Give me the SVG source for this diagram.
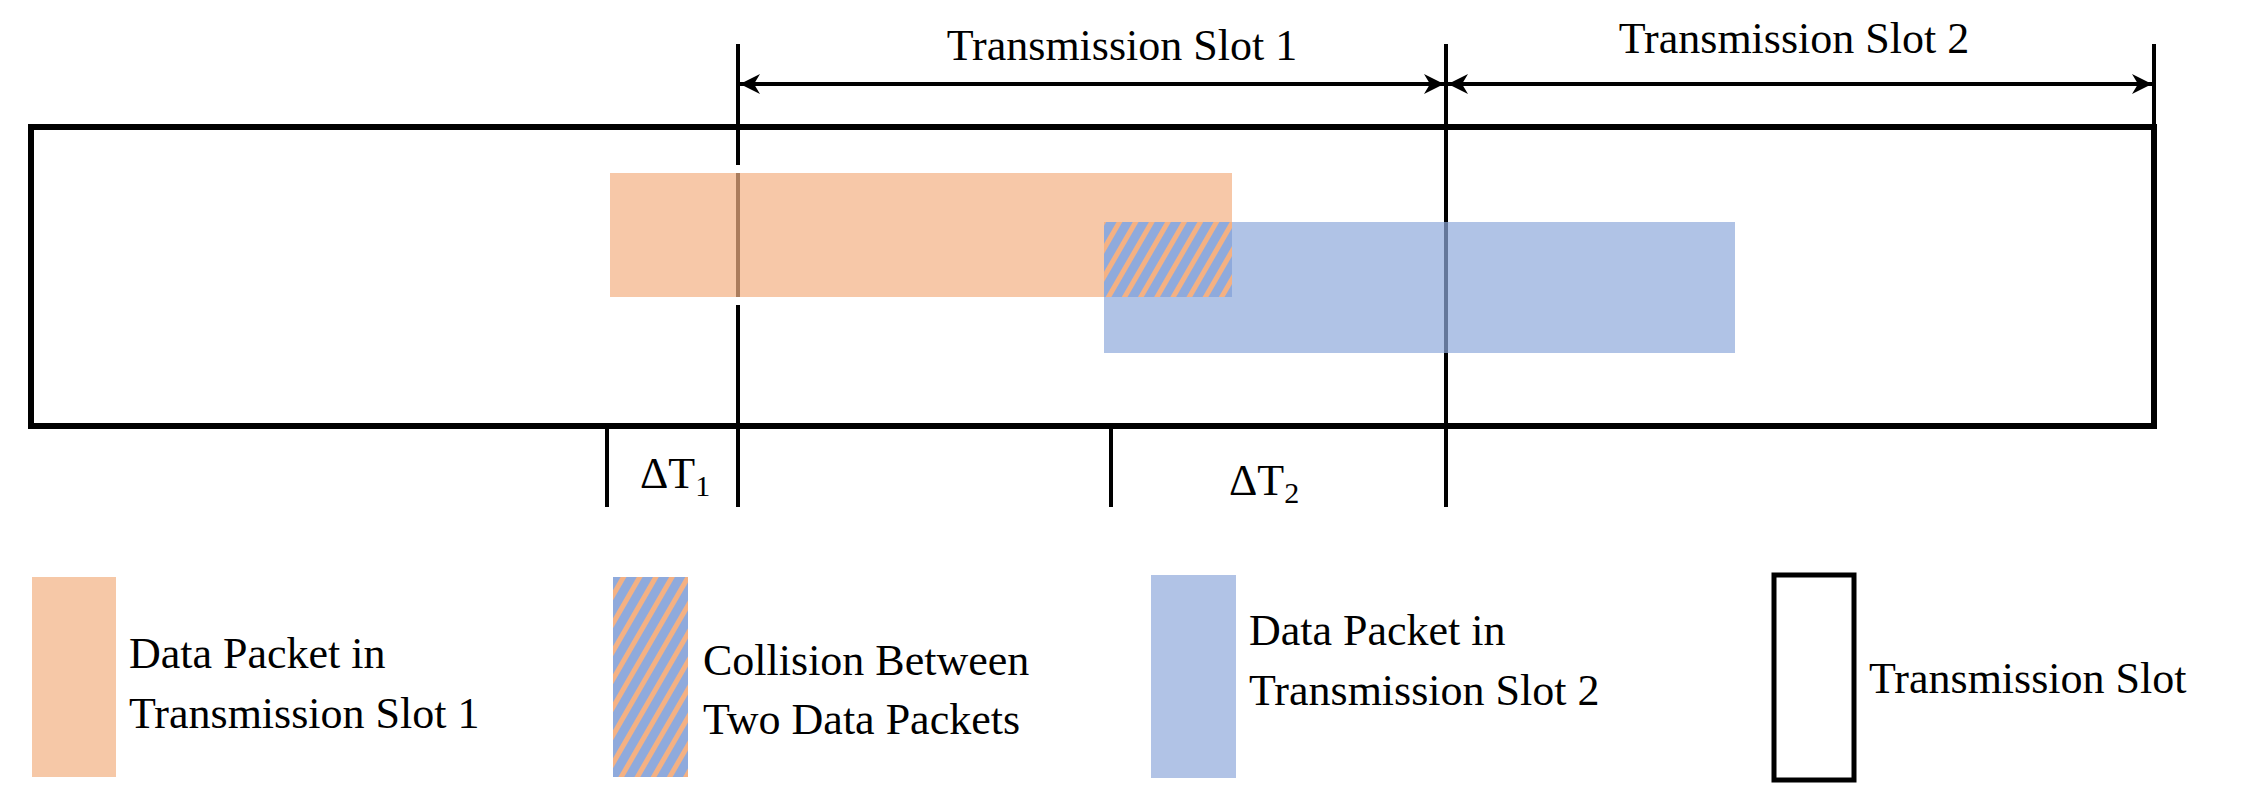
<svg xmlns="http://www.w3.org/2000/svg" width="2252" height="803" viewBox="0 0 2252 803">
<defs>
<style>
.ln{stroke:#000;stroke-width:4;fill:none}
.t{font-family:"Liberation Serif","Times New Roman",serif;font-size:44px;fill:#000}
.or{fill:#f4b183;fill-opacity:0.7}
.bl{fill:#8faadc;fill-opacity:0.7}
</style>
<pattern id="hatch" width="14" height="14" patternUnits="userSpaceOnUse" patternTransform="rotate(30)">
<rect width="14" height="14" fill="#8faadc"/>
<rect width="5" height="14" fill="#f4b183"/>
</pattern>
<marker id="ah" viewBox="0 0 20 20" refX="20" refY="10" markerWidth="20" markerHeight="20" markerUnits="userSpaceOnUse" orient="auto-start-reverse">
<path d="M0,0 L20,10 L0,20 L6,10 Z" fill="#000"/>
</marker>
</defs>
<g id="connectors">
<line class="ln" x1="738" y1="44" x2="738" y2="165"/>
<line class="ln" x1="738" y1="173" x2="738" y2="297"/>
<line class="ln" x1="738" y1="305" x2="738" y2="507"/>
<line class="ln" x1="1446" y1="44" x2="1446" y2="507"/>
<line class="ln" x1="2154" y1="44" x2="2154" y2="126"/>
<line class="ln" x1="607" y1="426" x2="607" y2="507"/>
<line class="ln" x1="1111" y1="426" x2="1111" y2="507"/>
<line class="ln" x1="740" y1="84" x2="1444" y2="84" marker-start="url(#ah)" marker-end="url(#ah)"/>
<line class="ln" x1="1448" y1="84" x2="2152" y2="84" marker-start="url(#ah)" marker-end="url(#ah)"/>
</g>
<g id="slot-frame"><rect x="31" y="127" width="2123" height="299" fill="none" stroke="#000" stroke-width="6"/></g>
<g id="packet1"><rect class="or" x="610" y="173" width="622" height="124"/></g>
<g id="packet2"><rect class="bl" x="1104" y="222" width="631" height="131"/></g>
<g id="collision"><rect x="1104" y="222" width="128" height="75" fill="url(#hatch)"/></g>
<g id="labels">
<text class="t" x="1122" y="60" text-anchor="middle">Transmission Slot 1</text>
<text class="t" x="1794" y="53" text-anchor="middle">Transmission Slot 2</text>
<text class="t" x="640" y="488">ΔT<tspan font-size="30" dy="8">1</tspan></text>
<text class="t" x="1229" y="495">ΔT<tspan font-size="30" dy="8">2</tspan></text>
</g>
<g id="legend-packet1">
<rect x="32" y="577" width="84" height="200" fill="#f6c8a7"/>
<text class="t" x="129" y="668">Data Packet in</text>
<text class="t" x="129" y="728">Transmission Slot 1</text>
</g>
<g id="legend-collision">
<rect x="613" y="577" width="75" height="200" fill="url(#hatch)"/>
<text class="t" x="703" y="675">Collision Between</text>
<text class="t" x="703" y="734">Two Data Packets</text>
</g>
<g id="legend-packet2">
<rect x="1151" y="575" width="85" height="203" fill="#b1c3e6"/>
<text class="t" x="1249" y="645">Data Packet in</text>
<text class="t" x="1249" y="705">Transmission Slot 2</text>
</g>
<g id="legend-slot">
<rect x="1774" y="575" width="80" height="205" fill="none" stroke="#000" stroke-width="5"/>
<text class="t" x="1869" y="693">Transmission Slot</text>
</g>
</svg>
